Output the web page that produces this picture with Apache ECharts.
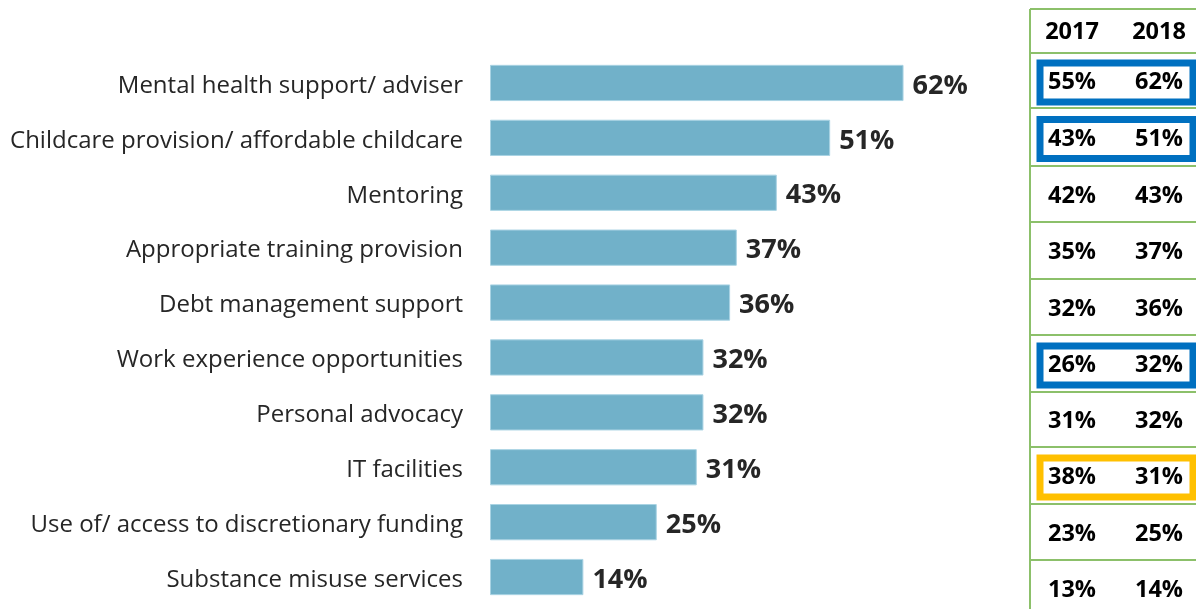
<!DOCTYPE html>
<html>
<head>
<meta charset="utf-8">
<script src="https://cdn.jsdelivr.net/npm/echarts@6/dist/echarts.min.js"></script>
<style>
  html, body { margin: 0; padding: 0; background: #ffffff; }
  #chart { width: 1196px; height: 609px; }
</style>
</head>
<body>
<div id="chart"></div>
<script>
// Services needed, share of respondents (2018), top to bottom
const categories = [
  'Mental health support/ adviser',
  'Childcare provision/ affordable childcare',
  'Mentoring',
  'Appropriate training provision',
  'Debt management support',
  'Work experience opportunities',
  'Personal advocacy',
  'IT facilities',
  'Use of/ access to discretionary funding',
  'Substance misuse services'
];
const values2018 = [62, 51, 43, 37, 36, 32, 32, 31, 25, 14];

// Comparison table: year headers and each year's values, same row order
const tableYears = ['2017', '2018'];
const values2017 = [55, 43, 42, 35, 32, 26, 31, 38, 23, 13];
// Row marker: 'up' = notable rise, 'down' = notable fall, '' = none
const rowMarks = ['up', 'up', '', '', '', 'up', '', 'down', '', ''];

const chart = echarts.init(document.getElementById('chart'), null, { renderer: 'canvas' });

// Table geometry
const tableLeft = 1030;
const tableRight = 1200;
const rowLines = [9, 53, 108, 166, 222, 279, 335, 392, 447, 504, 560, 616];
const colCenters = [1072, 1159];
const lineColor = '#8cc06a';
const markColors = { up: '#0070c0', down: '#ffc000' };

const graphics = [];
// left border of the table
graphics.push({
  type: 'line', silent: true,
  shape: { x1: tableLeft, y1: rowLines[0], x2: tableLeft, y2: 609 },
  style: { stroke: lineColor, lineWidth: 2 }
});
rowLines.forEach(y => {
  graphics.push({
    type: 'line', silent: true,
    shape: { x1: tableLeft, y1: y, x2: tableRight, y2: y },
    style: { stroke: lineColor, lineWidth: 2 }
  });
});
const cellText = (x, y, text) => ({
  type: 'text', silent: true, x: x, y: y,
  style: {
    text: text, align: 'center', verticalAlign: 'middle',
    font: 'bold 23.5px "Open Sans", sans-serif', fill: '#000000'
  }
});
tableYears.forEach((yr, i) => {
  graphics.push(cellText(colCenters[i], (rowLines[0] + rowLines[1]) / 2 + 1, yr));
});
categories.forEach((c, r) => {
  const yc = (rowLines[r + 1] + rowLines[r + 2]) / 2 + 2;
  const mark = rowMarks[r];
  if (mark) {
    graphics.push({
      type: 'rect', silent: true,
      shape: { x: 1040, y: yc - 19.5, width: 153, height: 39 },
      style: { fill: 'none', stroke: markColors[mark], lineWidth: 7 }
    });
  }
  graphics.push(cellText(colCenters[0], yc, values2017[r] + '%'));
  graphics.push(cellText(colCenters[1], yc, values2018[r] + '%'));
});

chart.setOption({
  animation: false,
  backgroundColor: '#ffffff',
  grid: { left: 490, top: 55.5, height: 549, width: 667, containLabel: false },
  xAxis: {
    type: 'value', min: 0, max: 100,
    show: false
  },
  yAxis: {
    type: 'category',
    inverse: true,
    data: categories,
    axisLine: { show: false },
    axisTick: { show: false },
    axisLabel: {
      margin: 27,
      formatter: v => '{c|' + v + '}',
      rich: {
        c: {
          padding: [6, 0, 0, 0],
          fontFamily: '"Open Sans", sans-serif',
          fontSize: 24,
          color: '#262626'
        }
      },
      fontFamily: '"Open Sans", sans-serif',
      fontSize: 24,
      color: '#262626'
    }
  },
  series: [{
    type: 'bar',
    data: values2018,
    barCategoryGap: '34%',
    itemStyle: { color: '#71b1c9', borderColor: '#a9d3e3', borderWidth: 1 },
    label: {
      show: true,
      position: 'right',
      distance: 9,
      offset: [0, 3],
      formatter: p => p.value + '%',
      fontFamily: '"Open Sans", sans-serif',
      fontWeight: 'bold',
      fontSize: 27,
      color: '#262626'
    }
  }],
  graphic: graphics
});
</script>
</body>
</html>
